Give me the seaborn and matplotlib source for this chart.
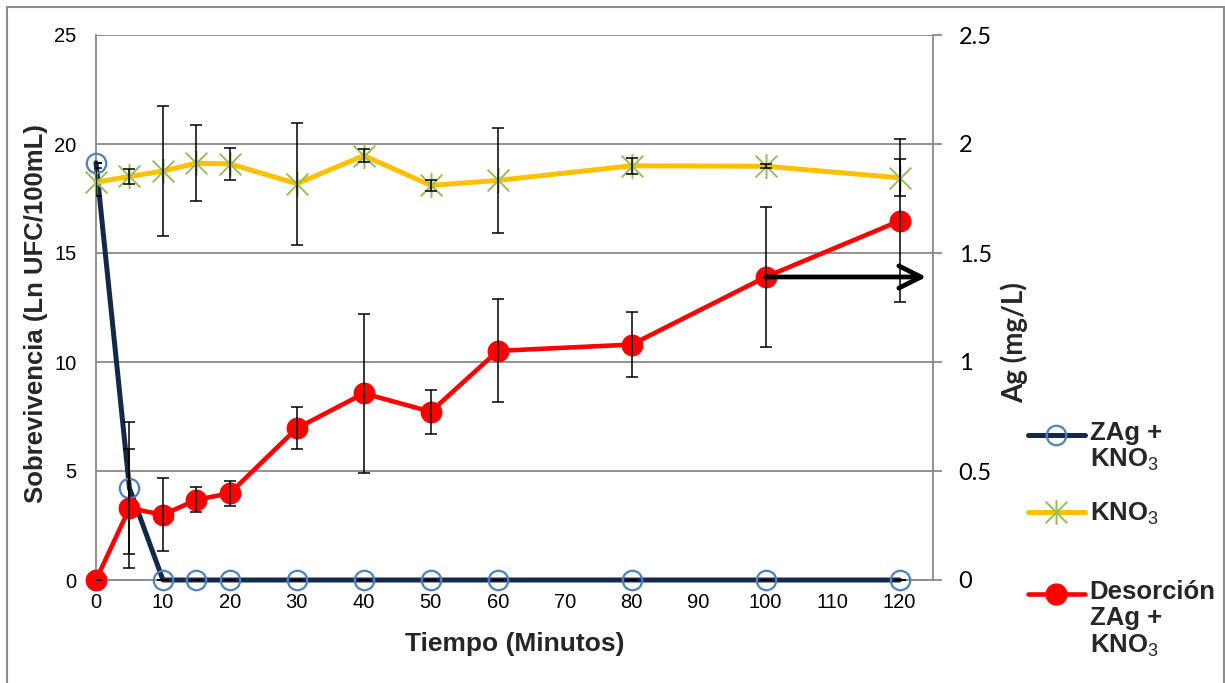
import matplotlib
matplotlib.use("Agg")
import matplotlib.pyplot as plt
import seaborn as sns
import numpy as np
import pandas as pd
from matplotlib.lines import Line2D
from matplotlib.path import Path
from matplotlib.patches import Rectangle
from matplotlib.ticker import FuncFormatter

# ---------------- data ----------------
tiempo = [0, 5, 10, 15, 20, 30, 40, 50, 60, 80, 100, 120]
zag_kno3 = [19.14, 4.21, 0, 0, 0, 0, 0, 0, 0, 0, 0, 0]
zag_kno3_err = [0, 3.03, 0, 0, 0, 0, 0, 0, 0, 0, 0, 0]
kno3 = [18.25, 18.51, 18.76, 19.12, 19.09, 18.18, 19.47, 18.10, 18.33, 19.00, 18.98, 18.45]
kno3_err = [0.65, 0.35, 3.0, 1.75, 0.72, 2.8, 0.28, 0.27, 2.42, 0.38, 0.10, 0.85]
desorcion = [0.0, 0.330, 0.299, 0.368, 0.398, 0.696, 0.856, 0.772, 1.051, 1.080, 1.390, 1.647]
desorcion_err = [0.0, 0.273, 0.167, 0.057, 0.057, 0.096, 0.363, 0.100, 0.236, 0.148, 0.320, 0.374]

x_ticks = [0, 10, 20, 30, 40, 50, 60, 70, 80, 90, 100, 110, 120]
left_ticks = [0, 5, 10, 15, 20, 25]
right_ticks = [0, 0.5, 1, 1.5, 2, 2.5]

label_zag = "ZAg +\nKNO$_3$"
label_kno3 = "KNO$_3$"
label_des = "Desorción\nZAg +\nKNO$_3$"

# ---------------- style ----------------
sns.set_theme(style="white")
plt.rcParams["font.family"] = ["Liberation Sans", "DejaVu Sans"]
plt.rcParams["mathtext.fontset"] = "custom"
plt.rcParams["mathtext.rm"] = "Liberation Sans"
plt.rcParams["mathtext.it"] = "Liberation Sans"
plt.rcParams["mathtext.bf"] = "Liberation Sans:bold"
plt.rcParams["mathtext.default"] = "rm"

NAVY = "#14294A"
BLUE_EDGE = "#4F81BD"
YELLOW = "#FFC000"
GREEN = "#9BBB59"
RED = "#FF0000"
GRID = "#898989"

fig = plt.figure(figsize=(12.25, 6.83), dpi=100)
ax = fig.add_axes([96 / 1225, 1 - 580 / 683, (933 - 96) / 1225, (580 - 35) / 683])
ax2 = ax.twinx()

df = pd.DataFrame({"t": tiempo, "zag": zag_kno3, "kno3": kno3, "des": desorcion})

# star marker (X + vertical bar) like Excel
star_path = Path(
    [(-1, -1), (1, 1), (-1, 1), (1, -1), (0, -1.15), (0, 1.15)],
    [Path.MOVETO, Path.LINETO, Path.MOVETO, Path.LINETO, Path.MOVETO, Path.LINETO],
)

# ZAg + KNO3
sns.lineplot(data=df, x="t", y="zag", ax=ax, color=NAVY, lw=3.6, marker="o",
             markersize=14, markerfacecolor="none", markeredgecolor=BLUE_EDGE,
             markeredgewidth=1.6, errorbar=None, zorder=3, clip_on=False)
# KNO3
sns.lineplot(data=df, x="t", y="kno3", ax=ax, color=YELLOW, lw=3.6, marker=star_path,
             markersize=18, markerfacecolor="none", markeredgecolor=GREEN,
             markeredgewidth=1.4, errorbar=None, zorder=4, clip_on=False)
ax.errorbar(tiempo, zag_kno3, yerr=zag_kno3_err, fmt="none", ecolor="black",
            elinewidth=1.1, capsize=4.5, capthick=1.1, zorder=5)
ax.errorbar(tiempo, kno3, yerr=kno3_err, fmt="none", ecolor="black",
            elinewidth=1.1, capsize=4.5, capthick=1.1, zorder=5)

# Desorción (right axis)
sns.lineplot(data=df, x="t", y="des", ax=ax2, color=RED, lw=3.3, marker="o",
             markersize=15, markerfacecolor=RED, markeredgecolor=RED,
             errorbar=None, zorder=3, clip_on=False)
ax2.errorbar(tiempo, desorcion, yerr=desorcion_err, fmt="none", ecolor="black",
             elinewidth=1.1, capsize=4.5, capthick=1.1, zorder=5)

# arrow pointing to right axis
ax2.annotate("", xy=(124, desorcion[10]), xytext=(tiempo[10], desorcion[10]),
             arrowprops=dict(arrowstyle="->", lw=3.4, color="black",
                             mutation_scale=40, shrinkA=0, shrinkB=0), zorder=6)

# ---------------- axes ----------------
ax.set_xlim(0, 125)
ax.set_ylim(0, 25)
ax2.set_ylim(0, 2.5)
ax.set_xticks(x_ticks)
ax.set_yticks(left_ticks)
ax2.set_yticks(right_ticks)
ax2.yaxis.set_major_formatter(FuncFormatter(lambda v, p: f"{v:g}"))

ax.grid(axis="y", color=GRID, lw=1.3)
ax.grid(axis="x", visible=False)
ax2.grid(False)
ax.set_axisbelow(True)

for a in (ax, ax2):
    for s in a.spines.values():
        s.set_visible(False)
for name, a in (("left", ax), ("bottom", ax), ("right", ax2)):
    a.spines[name].set_visible(True)
    a.spines[name].set_color(GRID)
    a.spines[name].set_linewidth(1.3)
    a.spines[name].set_zorder(0.5)

ax.tick_params(axis="y", length=0, pad=14, labelsize=14.5, colors="black")
ax.tick_params(axis="x", length=0, pad=9, labelsize=14.5, colors="black")
ax2.tick_params(axis="y", length=6.5, width=1.3, color=GRID, pad=12, labelsize=17,
                labelcolor="black", direction="out")
for t in ax2.get_yticklabels():
    t.set_fontfamily(["Lato", "DejaVu Sans"])

ax.set_xlabel("Tiempo (Minutos)", fontsize=19, fontweight="bold")
ax.xaxis.set_label_coords(0.5006, -0.095)
ax.set_ylabel("Sobrevivencia (Ln UFC/100mL)", fontsize=18.5, fontweight="bold")
ax.yaxis.set_label_coords(-0.0575, 0.488)
ax2.set_ylabel("Ag (mg/L)", fontsize=20, fontweight="bold", family=["Lato", "DejaVu Sans"])
ax2.yaxis.set_label_coords(1.0813, 0.435)

# ---------------- legend ----------------
h_zag = Line2D([], [], color=NAVY, lw=3.6, marker="o", markersize=14,
               markerfacecolor="none", markeredgecolor=BLUE_EDGE, markeredgewidth=1.6)
h_kno3 = Line2D([], [], color=YELLOW, lw=3.6, marker=star_path, markersize=18,
                markerfacecolor="none", markeredgecolor=GREEN, markeredgewidth=1.4)
h_des = Line2D([], [], color=RED, lw=3.3, marker="o", markersize=15,
               markerfacecolor=RED, markeredgecolor=RED)
# pad labels with blank lines so each handle sits on the first text line
labels = ["\n\n" + label_zag + "\n", label_kno3, "\n\n" + label_des]
leg = fig.legend([h_zag, h_kno3, h_des], labels, loc="center left",
                 bbox_to_anchor=(1028 / 1225, 1 - 514 / 683), frameon=False,
                 prop={"weight": "bold", "size": 18.5}, handlelength=2.2,
                 handletextpad=0.2, labelspacing=0.06, borderpad=0, borderaxespad=0)
for t in leg.get_texts():
    t.set_linespacing(1.1)

# figure border
fig.add_artist(Rectangle((7 / 1225, -0.05), (1223.5 - 7) / 1225, 1.05 - 7 / 683,
                         transform=fig.transFigure, fill=False, edgecolor="#8C8C8C", lw=1.5))

fig.savefig("out.png", dpi=100)
